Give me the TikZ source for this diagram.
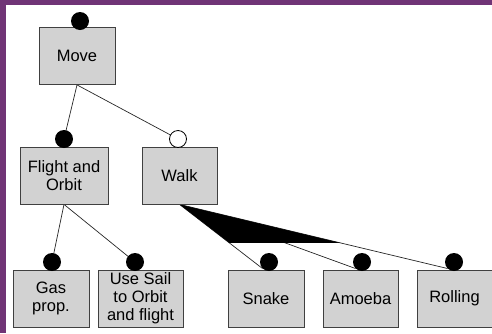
\documentclass[tikz,border=0pt]{standalone}
\usepackage{fontspec}
\setmainfont{Liberation Sans}
\usetikzlibrary{shapes,positioning,calc,backgrounds}
\definecolor{framecol}{RGB}{112,52,118}
\definecolor{boxfill}{RGB}{210,210,210}
\tikzset{
 feature/.style = {rectangle, draw=black!75, fill=boxfill, line width=0.8pt,
           minimum height=57pt, inner sep=1pt, align=center,
           font=\fontsize{16.5}{18}\selectfont},
 mand/.style = {circle, fill=black, minimum size=18pt, inner sep=0pt},
 opt/.style = {circle, draw=black, fill=white, line width=0.8pt,
           minimum size=17pt, inner sep=0pt},
 link/.style = {draw=black!85, line width=0.7pt}
}

\begin{document}
\begin{tikzpicture}[x=1pt, y=-1pt]
  \useasboundingbox (0,0) rectangle (492,333);
  % frame
  \fill[framecol] (0,0) rectangle (492,5);
  \fill[framecol] (0,0) rectangle (6,333);

  % Layer 0
  \node[feature, minimum width=76pt] (move) at (77,56) {Move};

  % Layer 1
  \node[feature, minimum width=88pt] (flight) at (64,175.5) {Flight and\\Orbit};
  \node[feature, minimum width=75pt] (walk) at (179.5,175.5) {Walk};

  % Layer 2
  \node[feature, minimum width=76pt] (gas) at (51,298.5) {Gas\\prop.};
  \node[feature, minimum width=85pt] (sail) at (140.5,298.5)
  {Use Sail\\to Orbit\\and flight};
  \node[feature, minimum width=76pt] (snake) at (266,298.5) {Snake};
  \node[feature, minimum width=75pt] (amoeba) at (360.5,298.5) {Amoeba};
  \node[feature, minimum width=75pt] (rolling) at (454.5,298.5) {Rolling};

  % dots
  \node[mand] (movedot) at (80,21) {};
  \node[mand] (flightdot) at (64,139) {};
  \node[opt] (walkdot) at (178,139) {};
  \node[mand] (gasdot) at (52,262) {};
  \node[mand] (saildot) at (135,262) {};
  \node[mand] (snakedot) at (269,262) {};
  \node[mand] (amoebadot) at (362,262) {};
  \node[mand] (rollingdot) at (454,262) {};

  % links
  \begin{scope}[on background layer]
  \draw[link] (move.south) -- (flightdot.center);
  \draw[link] (move.south) -- (walkdot.center);
  \draw[link] (flight.south) -- (gasdot.center);
  \draw[link] (flight.south) -- (saildot.center);
  \draw[link] (walk.south) -- (snakedot.south west);
  \draw[link] (walk.south) -- (amoebadot.south west);
  \draw[link] (walk.south) -- (rollingdot.south west);
  \fill[black] (walk.south) -- ($(walk.south)!0.6!(snakedot.south west)$)
    -- ($(walk.south)!0.6!(rollingdot.south west)$) -- cycle;
  \end{scope}
\end{tikzpicture}
\end{document}
